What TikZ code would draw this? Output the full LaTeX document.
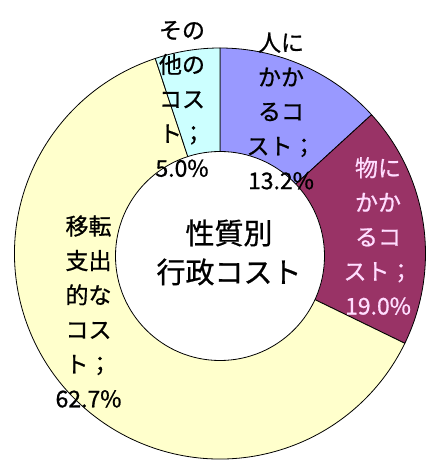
\documentclass[tikz,border=0pt]{standalone}
\usepackage{fontspec}
\newfontfamily\jpfont[FakeBold=0.8]{Noto Sans CJK JP}
\definecolor{cPerson}{HTML}{9999FF}
\definecolor{cThing}{HTML}{993366}
\definecolor{cTransfer}{HTML}{FFFFCC}
\definecolor{cOther}{HTML}{CCFFFF}
\definecolor{cPinkText}{HTML}{FFDDFF}
\tikzset{
  wedge/.style={draw=black, line width=0.8pt, line join=round},
  lbl/.style={inner sep=0pt, align=center, font=\jpfont\fontsize{23}{34.5}\selectfont},
  ctr/.style={inner sep=0pt, align=center, font=\jpfont\fontsize{29}{39}\selectfont},
}
\begin{document}
\begin{tikzpicture}[x=1pt,y=1pt]
\useasboundingbox (0,0) rectangle (429,460);
\fill[white] (0,0) rectangle (429,460);
\coordinate (c) at (220,206.5);
\def\R{205.5}
% 人にかかるコスト 13.2%
\path[wedge, fill=cPerson] (c) -- ++(42.48:\R) arc[start angle=42.48, end angle=90, radius=\R] -- cycle;
% 物にかかるコスト 19.0%
\path[wedge, fill=cThing] (c) -- ++(-25.92:\R) arc[start angle=-25.92, end angle=42.48, radius=\R] -- cycle;
% 移転支出的なコスト 62.7%
\path[wedge, fill=cTransfer] (c) -- ++(108.36:\R) arc[start angle=108.36, end angle=334.08, radius=\R] -- cycle;
% その他のコスト 5.0%
\path[wedge, fill=cOther] (c) -- ++(90:\R) arc[start angle=90, end angle=108.36, radius=\R] -- cycle;
% hole
\coordinate (h) at (220,204);
\path[wedge, fill=white] (h) circle[radius=104.5];
% labels
\node[lbl] (other) at (182,361) {その\\他の\\コス\\ト；\\5.0\%};
\node[lbl] (person) at (281,349) {人に\\かか\\るコ\\スト；\\13.2\%};
\node[lbl, text=cPinkText] (thing) at (378,224) {物に\\かか\\るコ\\スト；\\19.0\%};
\node[lbl] (transfer) at (88.5,148.5) {移転\\支出\\的な\\コス\\ト；\\62.7\%};
\node[ctr] (title) at (229,207.5) {性質別\\行政コスト};
\end{tikzpicture}
\end{document}
